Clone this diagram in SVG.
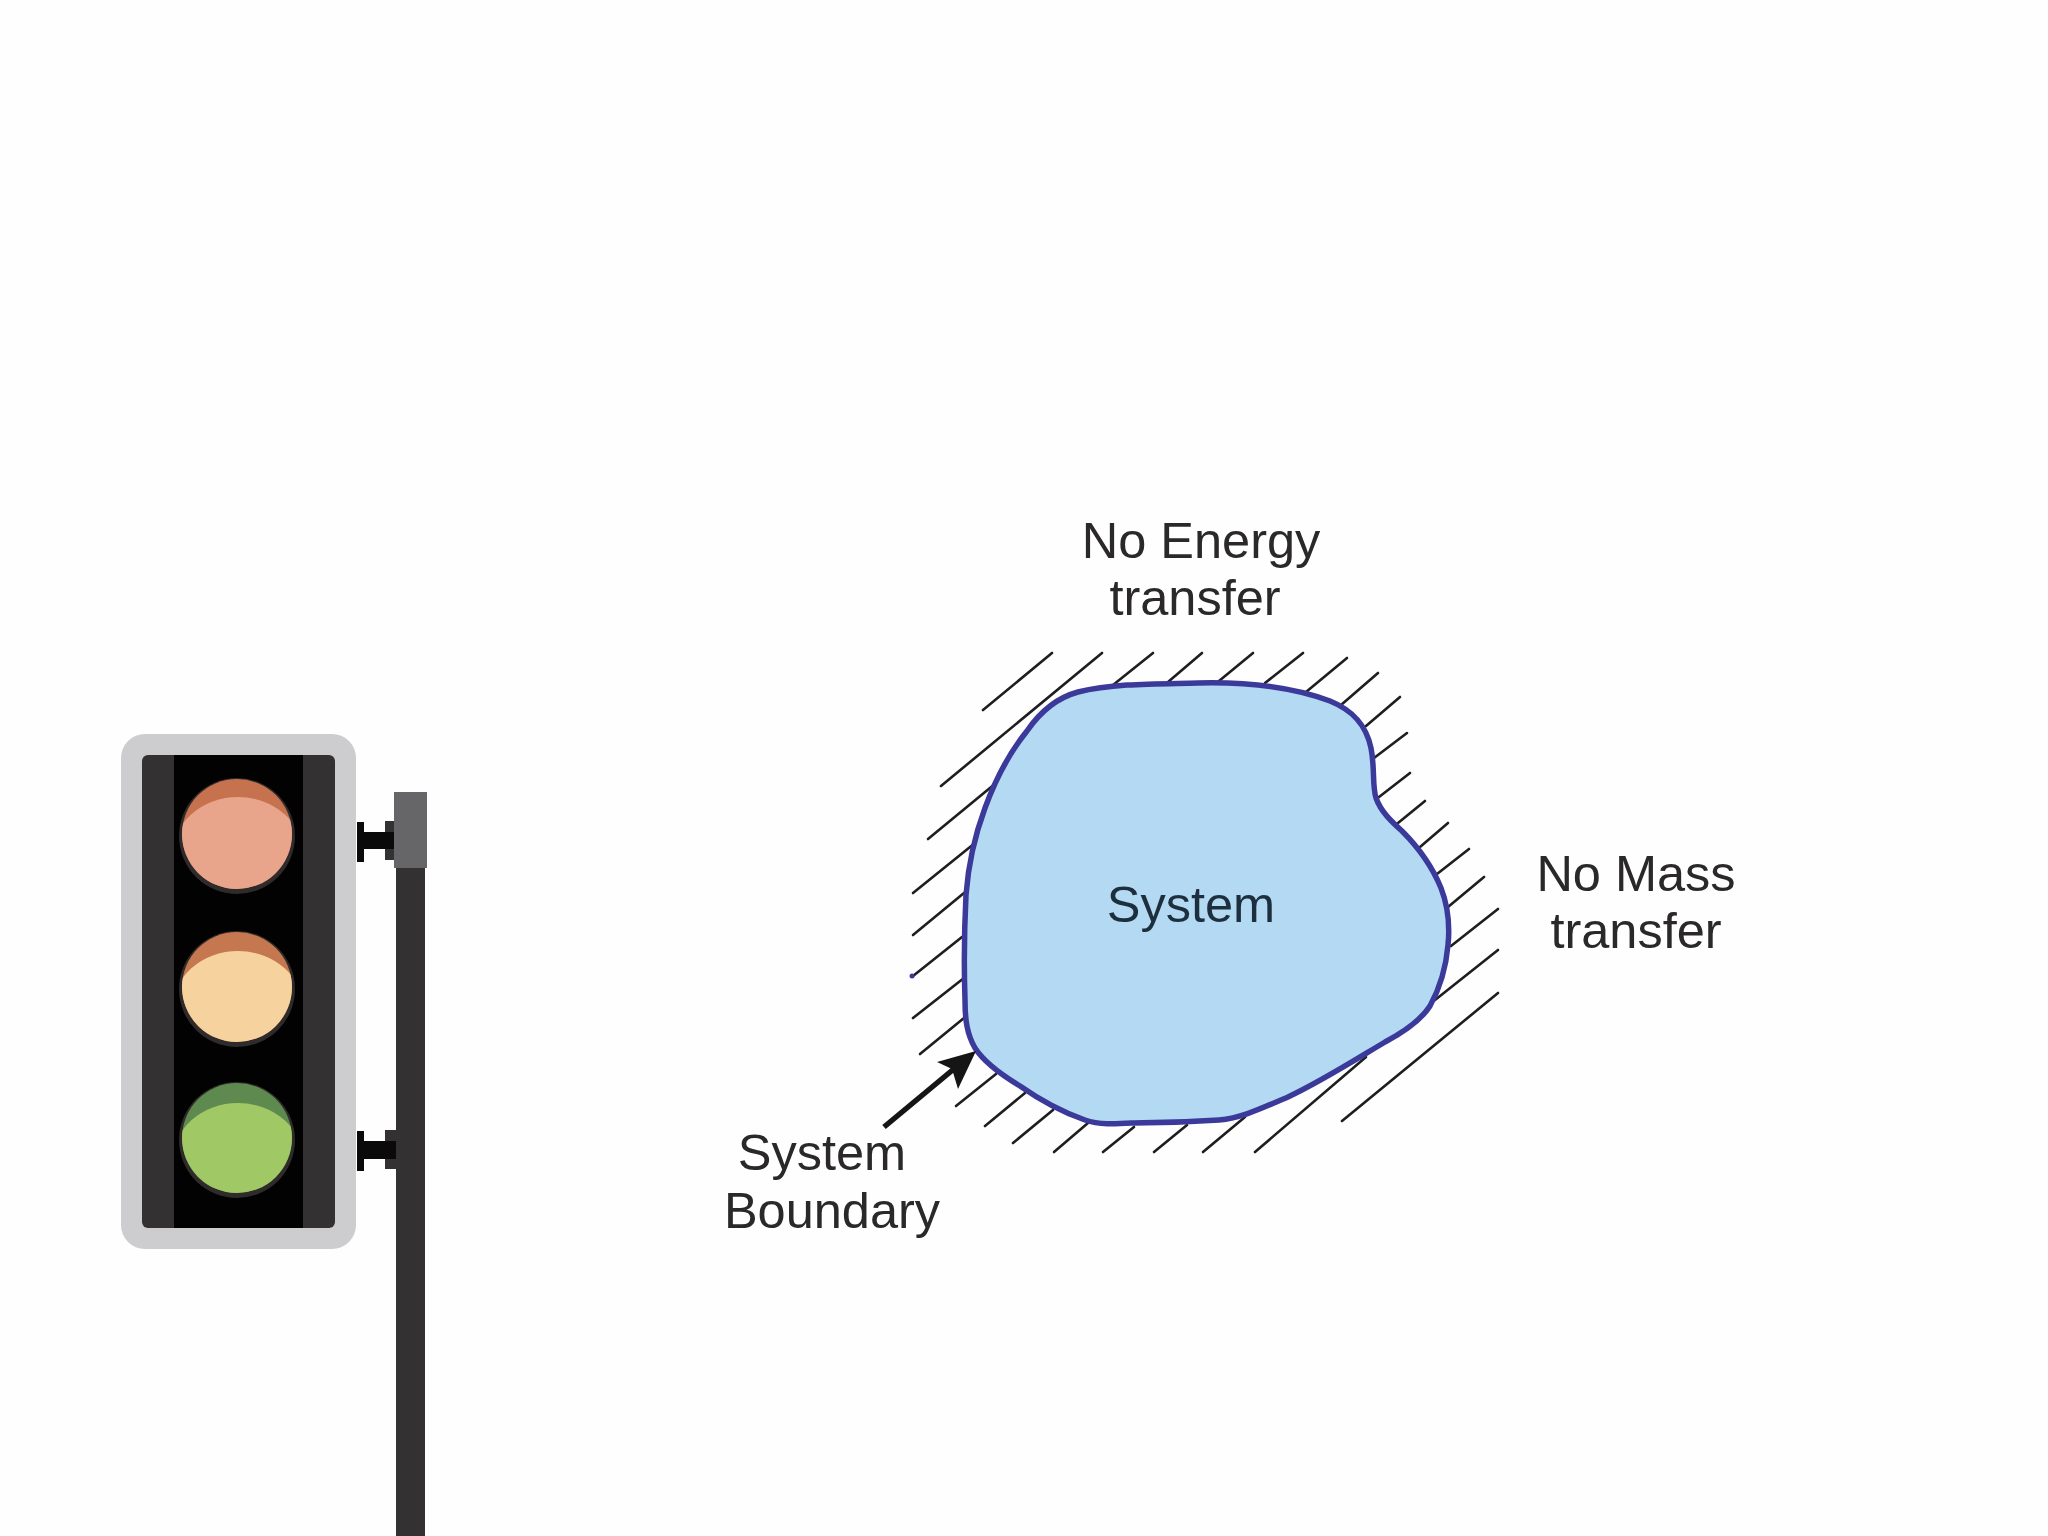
<svg xmlns="http://www.w3.org/2000/svg" width="2048" height="1536" viewBox="0 0 2048 1536">
<style>
.t{font-family:"Liberation Sans",Arial,sans-serif;font-size:50.5px;fill:#2a2829;text-anchor:middle}
.h line{stroke:#1e1e1e;stroke-width:2.6;stroke-linecap:round}
.ring{fill:#2e2b2a}
</style>
<defs>
<clipPath id="cr"><circle cx="237" cy="834" r="55"/></clipPath>
<clipPath id="cy"><circle cx="237" cy="987" r="55"/></clipPath>
<clipPath id="cg"><circle cx="237" cy="1138" r="55"/></clipPath>
</defs>
<rect width="2048" height="1536" fill="#fefefe"/>
<g id="traffic-light">
<rect x="396" y="860" width="29" height="676" fill="#333132"/>
<rect x="394" y="792" width="33" height="76" fill="#666567"/>
<g id="bracket-top"><rect x="385" y="821" width="9" height="39" fill="#333132"/><rect x="357" y="822" width="7" height="40" fill="#0a0a0a"/><rect x="362" y="832" width="32" height="17" fill="#0a0a0a"/></g>
<g id="bracket-bottom"><rect x="385" y="1130" width="11" height="39" fill="#333132"/><rect x="357" y="1131" width="7" height="40" fill="#0a0a0a"/><rect x="362" y="1141" width="34" height="18" fill="#0a0a0a"/></g>
<rect x="121" y="734" width="235" height="515" rx="24" fill="#cdcdcf"/>
<rect x="142" y="755" width="193" height="473" rx="6" fill="#333132"/>
<rect x="174" y="755" width="129" height="473" fill="#020202"/>
<g id="lamp-red"><circle class="ring" cx="237" cy="836" r="58"/><g clip-path="url(#cr)"><rect x="180" y="776" width="114" height="114" fill="#c6724f"/><ellipse cx="238" cy="856" rx="66" ry="59" fill="#e9a48c"/></g></g>
<g id="lamp-amber"><circle class="ring" cx="237" cy="989" r="58"/><g clip-path="url(#cy)"><rect x="180" y="930" width="114" height="114" fill="#c5774f"/><ellipse cx="238" cy="1010" rx="66" ry="59" fill="#f6d29e"/></g></g>
<g id="lamp-green"><circle class="ring" cx="237" cy="1140" r="58"/><g clip-path="url(#cg)"><rect x="180" y="1080" width="114" height="114" fill="#5e8a50"/><ellipse cx="238" cy="1162" rx="66" ry="59" fill="#a0c864"/></g></g>
</g>
<g id="hatching" class="h">
<line x1="983" y1="710" x2="1052" y2="653"/><line x1="941" y1="786" x2="1102" y2="653"/><line x1="1113" y1="685" x2="1153" y2="653"/><line x1="1168" y1="682" x2="1202" y2="653"/><line x1="1219" y1="681" x2="1253" y2="653"/><line x1="1265" y1="683" x2="1303" y2="653"/><line x1="1306" y1="692" x2="1347" y2="658"/><line x1="1341" y1="705" x2="1378" y2="673"/><line x1="1366" y1="726" x2="1400" y2="697"/><line x1="1374" y1="758" x2="1407" y2="733"/><line x1="1379" y1="797" x2="1410" y2="773"/><line x1="1398" y1="823" x2="1425" y2="801"/><line x1="1420" y1="847" x2="1448" y2="823"/><line x1="1437" y1="874" x2="1469" y2="849"/><line x1="1448" y1="907" x2="1484" y2="877"/><line x1="1451" y1="946" x2="1498" y2="909"/><line x1="1435" y1="1000" x2="1498" y2="950"/><line x1="1342" y1="1121" x2="1498" y2="993"/><line x1="1255" y1="1152" x2="1366" y2="1057"/><line x1="1203" y1="1152" x2="1245" y2="1117"/><line x1="1154" y1="1152" x2="1187" y2="1125"/><line x1="1103" y1="1152" x2="1134" y2="1127"/><line x1="1054" y1="1152" x2="1088" y2="1123"/><line x1="1013" y1="1143" x2="1053" y2="1110"/><line x1="985" y1="1126" x2="1025" y2="1093"/><line x1="956" y1="1106" x2="996" y2="1074"/><line x1="920" y1="1054" x2="964" y2="1018"/><line x1="913" y1="1018" x2="964" y2="978"/><line x1="913" y1="976" x2="962" y2="937"/><line x1="913" y1="935" x2="964" y2="893"/><line x1="913" y1="893" x2="975" y2="843"/><line x1="928" y1="839" x2="996" y2="783"/>
</g>
<circle cx="912" cy="976" r="2.5" fill="#3b3a9a"/>
<g id="system">
<path d="M1198 683C1240 682 1290 686 1330 701C1352 710 1366 724 1371 748C1375 768 1372 785 1376 798C1381 812 1392 822 1402 831C1418 847 1432 866 1441 888C1448 906 1450 925 1448 945C1446 968 1441 986 1430 1006C1421 1020 1402 1033 1385 1042C1350 1063 1320 1082 1288 1097C1262 1108 1242 1118 1219 1120C1190 1122 1160 1123 1133 1123C1115 1124 1100 1125 1085 1120C1062 1112 1040 1100 1020 1086C1000 1074 984 1062 975 1048C967 1034 965 1020 965 1000C964 970 964 935 966 895C968 868 975 835 985 808C996 778 1010 752 1027 731C1040 712 1056 698 1078 692C1115 683 1160 684 1198 683Z" fill="#b3daf2" stroke="#3b3a9a" stroke-width="5.5" stroke-linejoin="round"/>
<text class="t" x="1191" y="922" style="fill:#1d2f3e">System</text>
</g>
<g id="connectors">
<line x1="884" y1="1127" x2="955" y2="1068" stroke="#151515" stroke-width="5.5"/>
<polygon points="976,1051 958,1089 952,1069 937,1062" fill="#151515"/>
</g>
<g id="label-energy"><text class="t" x="1201" y="558">No Energy</text><text class="t" x="1195" y="615">transfer</text></g>
<g id="label-mass"><text class="t" x="1636" y="891">No Mass</text><text class="t" x="1636" y="948">transfer</text></g>
<g id="label-boundary"><text class="t" x="822" y="1170">System</text><text class="t" x="832" y="1228">Boundary</text></g>
</svg>
